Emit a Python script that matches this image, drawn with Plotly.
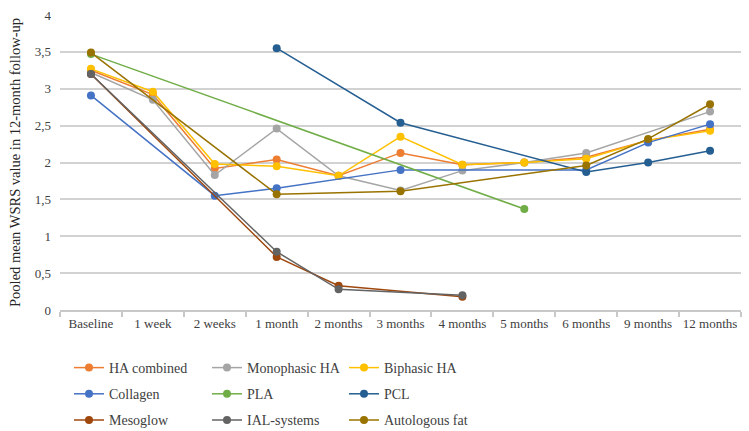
import plotly.graph_objects as go

categories = ["Baseline", "1 week", "2 weeks", "1 month", "2 months", "3 months",
              "4 months", "5 months", "6 months", "9 months", "12 months"]

ha_combined = [3.25, 2.92, 1.92, 2.04, 1.82, 2.13, 1.97, 2.00, 2.07, 2.30, 2.45]
monophasic_ha = [3.22, 2.85, 1.83, 2.46, 1.82, 1.62, 1.89, 2.00, 2.13, None, 2.69]
biphasic_ha = [3.27, 2.96, 1.98, 1.95, 1.82, 2.35, 1.97, 2.00, 2.05, 2.30, 2.43]
collagen = [2.91, None, 1.55, 1.65, None, 1.90, None, None, 1.90, 2.27, 2.52]
pla = [3.47, None, None, None, None, None, None, 1.37, None, None, None]
pcl = [None, None, None, 3.55, None, 2.54, None, None, 1.87, 2.00, 2.16]
mesoglow = [3.20, None, None, 0.72, 0.33, None, 0.18, None, None, None, None]
ial_systems = [3.20, None, None, 0.79, 0.28, None, 0.20, None, None, None, None]
autologous_fat = [3.49, None, None, 1.57, None, 1.61, None, None, 1.96, 2.32, 2.79]

series = [
    ("HA combined", ha_combined, "#ED7D31", "legend"),
    ("Monophasic HA", monophasic_ha, "#A5A5A5", "legend2"),
    ("Biphasic HA", biphasic_ha, "#FFC000", "legend3"),
    ("Collagen", collagen, "#4472C4", "legend"),
    ("PLA", pla, "#70AD47", "legend2"),
    ("PCL", pcl, "#255E91", "legend3"),
    ("Mesoglow", mesoglow, "#9E480E", "legend"),
    ("IAL-systems", ial_systems, "#636363", "legend2"),
    ("Autologous fat", autologous_fat, "#997300", "legend3"),
]

fig = go.Figure()
for name, vals, color, lg in series:
    fig.add_trace(go.Scatter(
        x=categories, y=vals, name=name, mode="lines+markers",
        connectgaps=True, legend=lg, legendgroup=name,
        line=dict(color=color, width=1.5),
        marker=dict(color=color, size=8),
    ))

FONT = "Liberation Serif"
W, H = 749, 431
L, R, T, B = 60, 8, 15, 121
pw = W - L - R
ph = H - T - B

def lx(px):
    return (px - L) / pw

def ly(py):
    return (H - B - py) / ph

legend_common = dict(
    orientation="v", xanchor="left", yanchor="top",
    font=dict(family=FONT, size=14, color="#404040"),
    bgcolor="rgba(0,0,0,0)", tracegroupgap=5,
    itemwidth=30,
)

fig.update_layout(
    template="none",
    width=W, height=H,
    margin=dict(l=L, r=R, t=T, b=B, autoexpand=False),
    paper_bgcolor="white", plot_bgcolor="white",
    separators=",.",
    font=dict(family=FONT, size=13, color="#404040"),
    showlegend=True,
    legend=dict(x=lx(69), y=ly(352), **legend_common),
    legend2=dict(x=lx(207), y=ly(352), **legend_common),
    legend3=dict(x=lx(344), y=ly(352), **legend_common),
    xaxis=dict(
        type="category", categoryorder="array", categoryarray=categories,
        range=[-0.5, 10.5], automargin=False,
        showgrid=False, showline=True, linecolor="#C8C8C8", linewidth=2,
        ticks="outside", tickson="boundaries", ticklen=5, tickcolor="#C8C8C8",
        tickwidth=1.5, tickangle=0,
        tickfont=dict(family=FONT, size=13, color="#404040"),
        zeroline=False,
    ),
    yaxis=dict(
        range=[0, 4], tickvals=[0, 0.5, 1, 1.5, 2, 2.5, 3, 3.5, 4],
        automargin=False,
        showgrid=True, gridcolor="#D2D2D2", gridwidth=2,
        zeroline=False, showline=False, ticks="",
        tickfont=dict(family=FONT, size=13, color="#404040"),
        ticklabelstandoff=8,
        title=dict(text="Pooled mean WSRS value in 12-month follow-up",
                   font=dict(family=FONT, size=14.5, color="#262626"), standoff=10),
    ),
)

fig.write_html("out.html", config={"displayModeBar": False},
               post_script="document.body.style.margin='0';")
